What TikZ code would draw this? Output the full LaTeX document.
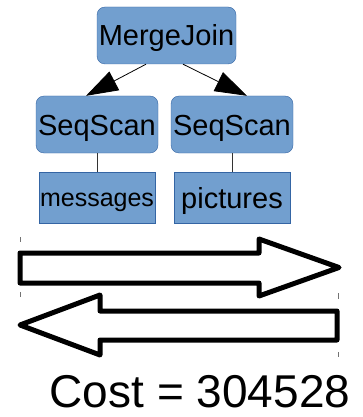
\documentclass[tikz,border=0pt]{standalone}
\usepackage{fontspec}
\setmainfont{Liberation Sans}
\usepackage{xcolor}
\usetikzlibrary{arrows.meta}
\definecolor{opfill}{RGB}{114,159,207}
\definecolor{opline}{RGB}{52,101,164}

\begin{document}
\begin{tikzpicture}[
      x=1pt, y=-1pt,
      every node/.style={align=center, inner sep=0pt},
      op/.style={draw=opline, fill=opfill, rounded corners=8pt,
                 minimum width=122pt, minimum height=57pt,
                 font=\fontsize{29}{34}\selectfont,
                 text height=21pt, text depth=0pt},
      rel/.style={draw=opline, fill=opfill,
                  minimum width=116pt, minimum height=51pt,
                  font=\fontsize{29}{34}\selectfont,
                  text height=21pt, text depth=0pt},
      flow/.style={-{Triangle[length=32pt, width=21pt]}, line width=0.8pt},
      link/.style={line width=0.8pt, draw=black!80},
      bigarrow/.style={draw, line width=5pt, line join=round, fill=white},
      tick/.style={draw=black!55, line width=0.7pt},
  ]
  \useasboundingbox (0,0) rectangle (362,417);

  % Plan tree
  \node[op, minimum width=139pt] (merge) at (166.5, 35.5) {MergeJoin};
  \node[op]  (scanA) at ( 97, 124.5) {SeqScan};
  \node[op]  (scanB) at (232, 124.5) {SeqScan};
  \node[rel, font=\fontsize{25}{30}\selectfont, text height=18pt]
             (tabA)  at ( 97, 197.5) {messages};
  \node[rel] (tabB)  at (232, 197.5) {pictures};

  \draw[flow] ([xshift=-20.5pt]merge.south) -- ([xshift=-11pt]scanA.north);
  \draw[flow] ([xshift=16.5pt]merge.south) -- ([xshift=15pt]scanB.north);
  \draw[link] (scanA) -- (tabA);
  \draw[link] (scanB) -- (tabB);

  % Direction arrows
  \draw[bigarrow] (20,253) -- (259,253) -- (259,239) -- (339,267.5)
    -- (259,296) -- (259,283) -- (20,283) -- cycle;
  \draw[bigarrow] (337,311) -- (100,311) -- (100,295) -- (20,325)
    -- (100,355) -- (100,340) -- (337,340) -- cycle;

  % selection ticks
  \draw[tick] (20,237) -- (20,242);
  \draw[tick] (20,292) -- (20,297);
  \draw[tick] (338,293) -- (338,299);
  \draw[tick] (338,352) -- (338,357);

  \node[anchor=base, font=\fontsize{46}{50}\selectfont] (cost) at (200,407) {Cost = 304528};

\end{tikzpicture}
\end{document}
